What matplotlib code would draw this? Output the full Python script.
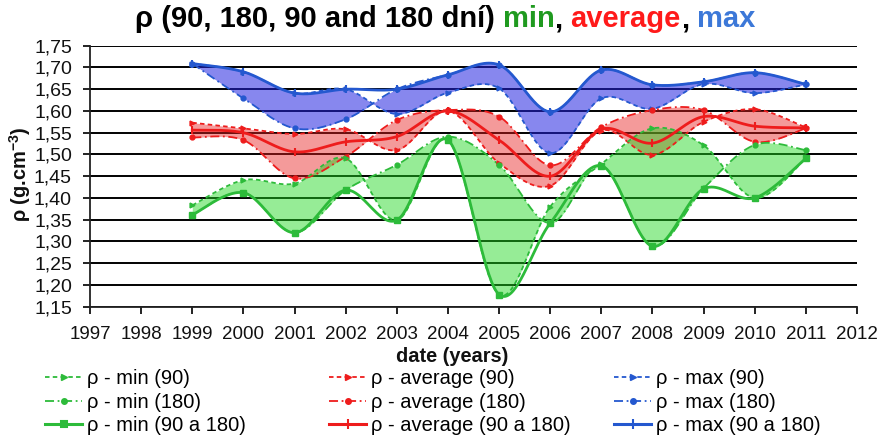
import numpy as np
import matplotlib
matplotlib.use("Agg")
import matplotlib.pyplot as plt
from matplotlib.lines import Line2D

plt.rcParams['font.family'] = ['Liberation Sans', 'DejaVu Sans']
plt.rcParams['mathtext.fontset'] = 'custom'
plt.rcParams['mathtext.rm'] = 'Liberation Sans'
plt.rcParams['mathtext.bf'] = 'Liberation Sans:bold'

# ---------------- data ----------------
years = [1999, 2000, 2001, 2002, 2003, 2004, 2005, 2006, 2007, 2008, 2009, 2010, 2011]

min_90 = [1.383, 1.441, 1.433, 1.491, 1.349, 1.533, 1.178, 1.380, 1.478, 1.560, 1.521, 1.400, 1.491]
min_180 = [1.361, 1.412, 1.320, 1.418, 1.476, 1.541, 1.476, 1.342, 1.474, 1.289, 1.422, 1.522, 1.510]
min_all = [1.361, 1.412, 1.320, 1.418, 1.349, 1.533, 1.178, 1.342, 1.474, 1.289, 1.421, 1.400, 1.491]

avg_90 = [1.573, 1.560, 1.547, 1.558, 1.510, 1.600, 1.480, 1.428, 1.555, 1.499, 1.575, 1.604, 1.562]
avg_180 = [1.539, 1.533, 1.445, 1.495, 1.579, 1.602, 1.587, 1.475, 1.563, 1.602, 1.602, 1.529, 1.560]
avg_all = [1.556, 1.550, 1.506, 1.529, 1.541, 1.600, 1.533, 1.450, 1.558, 1.526, 1.587, 1.565, 1.561]

max_90 = [1.709, 1.690, 1.641, 1.650, 1.593, 1.642, 1.652, 1.503, 1.629, 1.605, 1.662, 1.641, 1.661]
max_180 = [1.709, 1.629, 1.560, 1.581, 1.650, 1.683, 1.706, 1.598, 1.694, 1.660, 1.667, 1.688, 1.661]
max_all = [1.709, 1.690, 1.641, 1.650, 1.650, 1.683, 1.706, 1.598, 1.694, 1.660, 1.667, 1.688, 1.661]

y_ticks = [1.15, 1.20, 1.25, 1.30, 1.35, 1.40, 1.45, 1.50, 1.55, 1.60, 1.65, 1.70, 1.75]
x_ticks = list(range(1997, 2013))

labels_min = ['ρ - min (90)', 'ρ - min (180)', 'ρ - min (90 a 180)']
labels_avg = ['ρ - average (90)', 'ρ - average (180)', 'ρ - average (90 a 180)']
labels_max = ['ρ - max (90)', 'ρ - max (180)', 'ρ - max (90 a 180)']


def smooth(xs, ys, n=40):
    """Excel-like smoothed line (Bezier with 1/6 neighbour tangents)."""
    P = np.column_stack([np.asarray(xs, float), np.asarray(ys, float)])
    out = []
    m = len(P)
    for i in range(m - 1):
        p0 = P[i - 1] if i > 0 else P[i]
        p1 = P[i]
        p2 = P[i + 1]
        p3 = P[i + 2] if i + 2 < m else P[i + 1]
        c1 = p1 + (p2 - p0) / 6.0
        c2 = p2 - (p3 - p1) / 6.0
        t = np.linspace(0, 1, n, endpoint=(i == m - 2))[:, None]
        seg = ((1 - t) ** 3) * p1 + 3 * ((1 - t) ** 2) * t * c1 + 3 * (1 - t) * t ** 2 * c2 + t ** 3 * p2
        out.append(seg)
    out = np.vstack(out)
    return out[:, 0], out[:, 1]


W, H = 883, 441
fig = plt.figure(figsize=(W / 100, H / 100), dpi=100)
x0, x1 = 90, 857
y0, y1 = 45.7, 306.7
ax = fig.add_axes([x0 / W, 1 - y1 / H, (x1 - x0) / W, (y1 - y0) / H])

groups = [
    (max_90, max_180, max_all, '#2222e0', 0.54, '#2458cf', '|'),
    (avg_90, avg_180, avg_all, '#e82020', 0.45, '#ee1c1c', '|'),
    (min_90, min_180, min_all, '#20d820', 0.47, '#2dbb3a', 's'),
]

handles_all = []
for a, b, c, fcol, falpha, lcol, mk in groups:
    xa, ya = smooth(years, a)
    xb, yb = smooth(years, b)
    xc, yc = smooth(years, c)
    ax.fill_between(xa, ya, yb, color=fcol, alpha=falpha, lw=0, zorder=2)
    ax.plot(xa, ya, color=lcol, lw=1.3, ls=(0, (2.5, 1.8)), zorder=3)
    ax.plot(xb, yb, color=lcol, lw=1.3, ls=(0, (5, 2, 1, 2)), zorder=3)
    ax.plot(xc, yc, color=lcol, lw=2.0, ls='-', zorder=4)
    ax.plot(years, a, ls='none', marker='>', ms=3.5, color=lcol, zorder=5)
    ax.plot(years, b, ls='none', marker='o', ms=3.5, color=lcol, zorder=5)
    if mk == 's':
        ax.plot(years, c, ls='none', marker='s', ms=4.5, color=lcol, zorder=6)
    else:
        ax.plot(years, c, ls='none', marker='|', ms=6, mew=1.5, color=lcol, zorder=6)
    hs = [
        Line2D([], [], color=lcol, lw=1.3, ls=(0, (2.5, 1.8)), marker='>', ms=4),
        Line2D([], [], color=lcol, lw=1.3, ls=(0, (5, 2, 1, 2)), marker='o', ms=4),
        Line2D([], [], color=lcol, lw=2.2, ls='-', marker=('s' if mk == 's' else '|'),
               ms=(5 if mk == 's' else 7), mew=1.5),
    ]
    handles_all.append(hs)

ax.set_xlim(1997, 2012)
ax.set_ylim(1.15, 1.75)
ax.set_yticks(y_ticks)
ax.set_yticklabels([f"{v:.2f}".replace('.', ',') for v in y_ticks])
ax.set_xticks(x_ticks)
ax.set_xticklabels([str(v) for v in x_ticks])
ax.grid(axis='y', color='black', lw=1.4, zorder=1)
ax.set_axisbelow(True)
ax.spines['top'].set_visible(False)
ax.spines['right'].set_visible(False)
ax.spines['left'].set_color('#222222')
ax.spines['bottom'].set_color('#222222')
ax.spines['left'].set_linewidth(1.3)
ax.spines['bottom'].set_linewidth(1.3)
ax.tick_params(axis='x', direction='out', length=5, width=1.3, pad=9, labelsize=13.5, colors='#111111')
ax.tick_params(axis='y', direction='out', length=5, width=1.3, pad=8, labelsize=14, colors='#111111')

# axis labels
fig.text(452 / W, 1 - 356 / H, 'date (years)', ha='center', va='center', fontsize=14.4,
         fontweight='bold', color='#111111')
fig.text(20 / W, 1 - 174 / H, r'ρ (g.cm$^{\mathbf{-3}}$)', ha='center', va='center', rotation=90,
         fontsize=14.4, fontweight='bold', color='#111111')

# title with coloured parts
pieces = [('ρ (90, 180, 90 and 180 dní) ', 'black'), ('min', '#1f9a1f'), (', ', 'black'),
          ('average', '#ff1a1a'), (', ', 'black'), ('max', '#3c78d8')]
renderer = fig.canvas.get_renderer()
tsize = 21
full = ''.join(p for p, _ in pieces)
tmp = fig.text(0, 0, full + 'x', fontsize=tsize, fontweight='bold')
wx = fig.text(0, 0, 'x', fontsize=tsize, fontweight='bold')
total_w = tmp.get_window_extent(renderer).width - wx.get_window_extent(renderer).width
tmp.remove()
start_px = 445 - total_w / 2
prefix = ''
base_y = 1 - 27 / H
for txt, col in pieces:
    tp = fig.text(0, 0, prefix + 'x', fontsize=tsize, fontweight='bold')
    off = tp.get_window_extent(renderer).width - wx.get_window_extent(renderer).width
    tp.remove()
    fig.text((start_px + off) / W, base_y, txt.rstrip(), fontsize=tsize, fontweight='bold',
             color=col, ha='left', va='baseline')
    prefix += txt
wx.remove()

# legends: min, average, max columns
order = [2, 1, 0]  # groups list order is max, avg, min
col_x = [45, 329, 614]
col_labels = [labels_min, labels_avg, labels_max]
for ci, gi in enumerate(order):
    fig.legend(handles=handles_all[gi], labels=col_labels[ci], loc='upper left',
               bbox_to_anchor=(col_x[ci] / W, 1 - 369 / H), frameon=False, fontsize=14.5,
               handlelength=1.85, handletextpad=0.25, borderpad=0, borderaxespad=0,
               labelspacing=0.23)

fig.savefig('out.png', dpi=100)
